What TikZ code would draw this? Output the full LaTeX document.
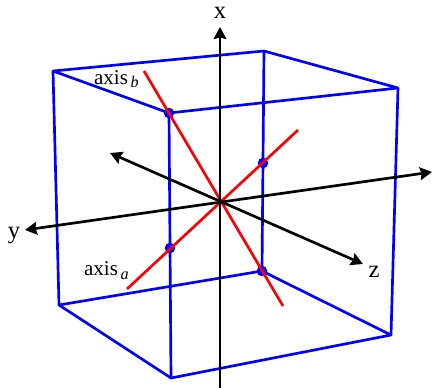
\documentclass[tikz,border=0pt]{standalone}
\usepackage{fontspec}
\setmainfont{Liberation Serif}
\usetikzlibrary{arrows.meta}
\tikzset{
  cubeedge/.style={blue,line width=1.9pt},
  rayline/.style={red,line width=1.9pt},
  axisline/.style={black,line width=1.9pt},
  piercedot/.style={circle,fill=blue,inner sep=0pt,minimum size=7.5pt},
  axislabel/.style={font=\fontsize{17.5}{19}\selectfont},
  raylabel/.style={font=\fontsize{15}{17}\selectfont}
}
\newcommand{\raysub}[1]{\raisebox{-2.5pt}{\fontsize{11.5}{12}\selectfont\itshape\,#1}}
\begin{document}
\begin{tikzpicture}[>={Stealth[length=8.5pt,width=9pt,inset=1pt]}, scale=1.0]
  \useasboundingbox (-5.5,-4.65) rectangle (5.3,5.05);
  % cube corners
  \coordinate (topback) at (1.1,3.775);
  \coordinate (topleft) at (-4.175,3.275);
  \coordinate (topfront) at (-1.275,2.225);
  \coordinate (topright) at (4.45,2.85);
  \coordinate (botback) at (1.05,-1.725);
  \coordinate (botleft) at (-4.025,-2.575);
  \coordinate (botfront) at (-1.225,-4.4);
  \coordinate (botright) at (4.275,-3.325);
  \draw[cubeedge,line join=round] (topleft) -- (topback) -- (topright) -- (topfront) -- cycle;
  \draw[cubeedge,line join=round] (botleft) -- (botfront) -- (botright) -- (botback) -- cycle;
  \draw[cubeedge] (topleft) -- (botleft);
  \draw[cubeedge] (topfront) -- (botfront);
  \draw[cubeedge] (topright) -- (botright);
  \draw[cubeedge] (topback) -- (botback);
  % points where the red lines meet the edges
  \node[piercedot] (dotb1) at (topfront) {};
  \node[piercedot] (dotb2) at (botback) {};
  \node[piercedot] (dota1) at (1.075,0.975) {};
  \node[piercedot] (dota2) at (-1.25,-1.15) {};
  % red lines
  \coordinate (bstart) at (-1.9,3.275);
  \coordinate (bend) at (1.575,-2.6);
  \coordinate (astart) at (-2.325,-2.175);
  \coordinate (aend) at (1.95,1.8);
  \draw[rayline] (bstart) -- (bend);
  \draw[rayline] (astart) -- (aend);
  % axes
  \coordinate (xlow) at (0,-4.65);
  \coordinate (xhigh) at (0,4.375);
  \coordinate (yhigh) at (-4.875,-0.7);
  \coordinate (ylow) at (5.3,0.75);
  \coordinate (zlow) at (-2.75,1.225);
  \coordinate (zhigh) at (3.575,-1.55);
  \draw[->,axisline] (xlow) -- (xhigh);
  \draw[<->,axisline] (ylow) -- (yhigh);
  \draw[<->,axisline] (zlow) -- (zhigh);
  \node[axislabel] (xlabel) at (0,4.72) {x};
  \node[axislabel] (ylabel) at (-5.15,-0.85) {y};
  \node[axislabel] (zlabel) at (3.85,-1.75) {z};
  \node[raylabel] (blabel) at (-2.59,3.07) {axis\raysub{b}};
  \node[raylabel] (alabel) at (-2.84,-1.72) {axis\raysub{a}};
\end{tikzpicture}
\end{document}
